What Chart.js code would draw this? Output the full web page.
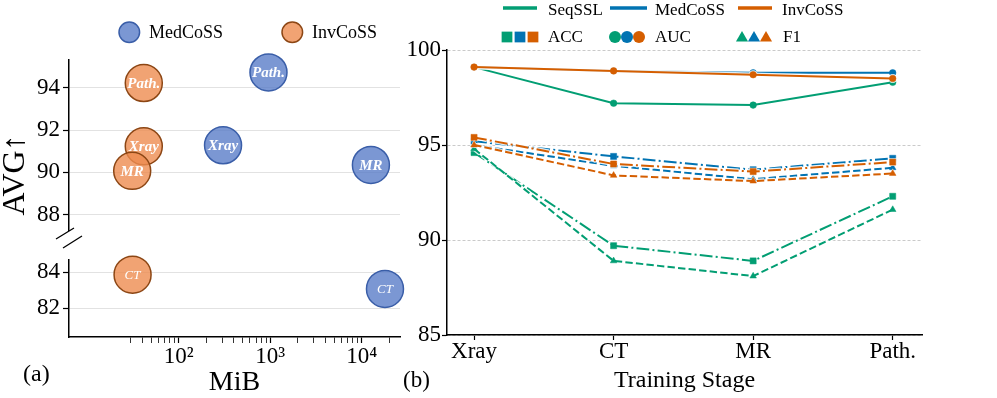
<!DOCTYPE html>
<html>
<head>
<meta charset="utf-8">
<script src="https://cdn.jsdelivr.net/npm/chart.js@4.4.0/dist/chart.umd.min.js"></script>
<style>
  body { margin: 0; background: #fff; width: 997px; height: 398px; overflow: hidden; position: relative; }
  canvas { position: absolute; }
</style>
</head>
<body>
<canvas id="aTop" width="440" height="250" style="left:0;top:0;width:440px;height:250px"></canvas>
<canvas id="aBot" width="440" height="158" style="left:0;top:240px;width:440px;height:158px"></canvas>
<canvas id="b" width="597" height="398" style="left:400px;top:0;width:597px;height:398px"></canvas>
<script>
// (a) storage (MiB) vs. average score, one bubble per training stage
const stages = ['Xray', 'CT', 'MR', 'Path.'];
const medMiB = [305, 17950, 12600, 957];
const medAVG = [91.28, 83.07, 90.35, 94.73];
const invMiB = [41.5, 31.3, 31.0, 41.5];
const invAVG = [91.23, 83.86, 90.07, 94.23];
const avgTicksTop = [88, 90, 92, 94];
const avgTicksBot = [82, 84];
const mibMajor = [100, 1000, 10000];

// (b) scores after each training stage
const methods = ['SeqSSL', 'MedCoSS', 'InvCoSS'];
const metrics = ['ACC', 'AUC', 'F1'];
const seqACC = [94.6, 89.7, 88.9, 92.3];
const medACC = [95.2, 94.4, 93.7, 94.3];
const invACC = [95.4, 94.0, 93.6, 94.1];
const seqAUC = [99.1, 97.2, 97.1, 98.3];
const medAUC = [99.1, 98.9, 98.8, 98.8];
const invAUC = [99.1, 98.9, 98.7, 98.5];
const seqF1 = [94.8, 88.9, 88.1, 91.6];
const medF1 = [95.0, 93.9, 93.2, 93.8];
const invF1 = [95.0, 93.4, 93.1, 93.5];
const scoreTicks = [85, 90, 95, 100];

const FONT = '"Liberation Serif", "Times New Roman", serif';
const methodColors = ['#029e73', '#0173b2', '#d55e00'];
const bubbleFill = ['rgba(90,125,200,0.8)', 'rgba(238,140,80,0.8)'];
const bubbleEdge = ['#3a5ea8', '#8c4614'];

Chart.defaults.font.family = FONT;
Chart.defaults.color = '#000';

// minor ticks for the log axis (matplotlib style), starting at 30
const mibTicks = [];
[10, 100, 1000, 10000].forEach(d => {
  for (let k = 1; k <= 9; k++) {
    const v = k * d;
    if (v >= 30 && v <= 26000) mibTicks.push(v);
  }
});
const sup = { 2: '\u00b2', 3: '\u00b3', 4: '\u2074' };

function points(xs, ys, keep) {
  return xs.map((x, i) => ({ x, y: ys[i], name: stages[i] })).filter(p => keep(p.y));
}

const bubbleLabels = {
  id: 'bubbleLabels',
  afterDatasetsDraw(chart) {
    const ctx = chart.ctx;
    ctx.save();
    ctx.fillStyle = '#fff';
    ctx.textAlign = 'center';
    ctx.textBaseline = 'middle';
    chart.data.datasets.forEach((ds, i) => {
      chart.getDatasetMeta(i).data.forEach((pt, j) => {
        const name = ds.data[j].name;
        ctx.font = name === 'CT' ? 'italic 13px ' + FONT : 'italic bold 15px ' + FONT;
        ctx.fillText(name, pt.x, pt.y + 1);
      });
    });
    ctx.restore();
  }
};

function bubbleSets(keep) {
  return [
    { label: 'MedCoSS', data: points(medMiB, medAVG, keep) },
    { label: 'InvCoSS', data: points(invMiB, invAVG, keep) }
  ].map((ds, k) => Object.assign(ds, {
    pointRadius: 18.5, pointHoverRadius: 18.5,
    backgroundColor: bubbleFill[k], borderColor: bubbleEdge[k],
    borderWidth: 1.5, clip: false
  }));
}

function avgAxis(min, max, ticks) {
  return {
    min, max,
    afterBuildTicks: s => { s.ticks = ticks.map(v => ({ value: v })); },
    afterFit: s => { s.width = 69; s.paddingTop = 0; s.paddingBottom = 0; },
    grid: { color: '#e2e2e2', lineWidth: 1, tickColor: '#000', tickLength: 6, tickWidth: 1.2 },
    border: { color: '#000', width: 1.5 },
    ticks: { font: { size: 23, lineHeight: 1 }, padding: 3 }
  };
}

function mibAxis(shown) {
  return {
    type: 'logarithmic', min: 6.32, max: 26200, display: shown,
    afterBuildTicks: s => { s.ticks = mibTicks.map(v => ({ value: v, major: mibMajor.includes(v) })); },
    afterFit: s => { s.height = shown ? 61 : 0; s.paddingLeft = 0; s.paddingRight = 0; },
    grid: { drawOnChartArea: false, tickColor: '#000', tickLength: 6,
            tickWidth: c => (c.tick && mibMajor.includes(c.tick.value) ? 1.2 : 0.8) },
    border: { color: '#000', width: 1.5 },
    ticks: {
      autoSkip: false, maxRotation: 0, padding: 2,
      font: { size: 23, lineHeight: 1 },
      callback: v => (mibMajor.includes(v) ? '10' + sup[Math.round(Math.log10(v))] : '')
    },
    title: { display: true, text: 'MiB', font: { size: 28, lineHeight: 1 }, padding: { top: 0, bottom: 1 } }
  };
}

const legendA = {
  id: 'legendA',
  afterDraw(chart) {
    const ctx = chart.ctx;
    ctx.save();
    [[129.3, 149], [292.3, 312]].forEach(([cx, tx], k) => {
      ctx.beginPath();
      ctx.arc(cx, 32.3, 10.3, 0, Math.PI * 2);
      ctx.fillStyle = bubbleFill[k];
      ctx.fill();
      ctx.lineWidth = 1.5;
      ctx.strokeStyle = bubbleEdge[k];
      ctx.stroke();
      ctx.fillStyle = '#000';
      ctx.font = '18px ' + FONT;
      ctx.textBaseline = 'middle';
      ctx.fillText(k === 0 ? 'MedCoSS' : 'InvCoSS', tx, 33);
    });
    // y title
    ctx.translate(16, 175);
    ctx.rotate(-Math.PI / 2);
    ctx.textAlign = 'center';
    ctx.font = '32px ' + FONT;
    ctx.fillText('AVG\u2191', 0, 0);
    ctx.restore();
    // axis break marks
    ctx.save();
    ctx.strokeStyle = '#000';
    ctx.lineWidth = 1.3;
    ctx.beginPath();
    ctx.moveTo(56, 239); ctx.lineTo(74, 228);
    ctx.moveTo(63, 248); ctx.lineTo(82, 236);
    ctx.stroke();
    ctx.restore();
  }
};

const labelA = {
  id: 'labelA',
  afterDraw(chart) {
    const ctx = chart.ctx;
    ctx.save();
    ctx.fillStyle = '#000';
    ctx.font = '24px ' + FONT;
    ctx.textBaseline = 'middle';
    ctx.fillText('(a)', 23, 134.5);
    ctx.restore();
  }
};

new Chart(document.getElementById('aTop'), {
  type: 'scatter',
  data: { datasets: bubbleSets(y => y > 86) },
  options: {
    responsive: false, animation: false, devicePixelRatio: 1,
    layout: { padding: { top: 60, bottom: 17, left: 0, right: 40 } },
    plugins: { legend: { display: false }, tooltip: { enabled: false } },
    scales: { x: mibAxis(false), y: avgAxis(87.27, 95.32, avgTicksTop) }
  },
  plugins: [bubbleLabels, legendA]
});

new Chart(document.getElementById('aBot'), {
  type: 'scatter',
  data: { datasets: bubbleSets(y => y < 86) },
  options: {
    responsive: false, animation: false, devicePixelRatio: 1,
    layout: { padding: { top: 6, bottom: 0, left: 0, right: 40 } },
    plugins: { legend: { display: false }, tooltip: { enabled: false } },
    scales: { x: mibAxis(true), y: avgAxis(80.41, 84.67, avgTicksBot) }
  },
  plugins: [bubbleLabels, labelA]
});

// (b)
const dashes = { ACC: [12.8, 3.2, 2, 3.2], AUC: [], F1: [7.4, 3.2] };
const shapes = { ACC: 'rect', AUC: 'circle', F1: 'triangle' };
const radii = { ACC: 4.3, AUC: 3.3, F1: 3.8 };
const series = [
  ['SeqSSL', 'ACC', seqACC], ['SeqSSL', 'AUC', seqAUC], ['SeqSSL', 'F1', seqF1],
  ['MedCoSS', 'ACC', medACC], ['MedCoSS', 'AUC', medAUC], ['MedCoSS', 'F1', medF1],
  ['InvCoSS', 'ACC', invACC], ['InvCoSS', 'AUC', invAUC], ['InvCoSS', 'F1', invF1]
];
const lineSets = [];
series.forEach(([m, metric, vals], k) => {
  const c = methodColors[methods.indexOf(m)];
  const data = vals.map((v, i) => ({ x: i, y: v }));
  const base = {
    data, borderDash: dashes[metric], pointStyle: shapes[metric],
    showLine: true, tension: 0, clip: false
  };
  // light white outline drawn just under each line
  lineSets.push(Object.assign({}, base, {
    label: m + ' ' + metric + ' outline',
    borderColor: 'rgba(255,255,255,0.85)', backgroundColor: 'rgba(255,255,255,0.85)',
    borderWidth: 4.5, pointRadius: radii[metric] + 1.2, pointHoverRadius: radii[metric] + 1.2,
    pointBorderWidth: 0, order: 201 - 2 * k
  }));
  lineSets.push(Object.assign({}, base, {
    label: m + ' ' + metric,
    borderColor: c, backgroundColor: c,
    borderWidth: 2, pointRadius: radii[metric], pointHoverRadius: radii[metric],
    pointBorderWidth: 0.5, order: 200 - 2 * k
  }));
});

const legendB = {
  id: 'legendB',
  afterDraw(chart) {
    const ctx = chart.ctx;
    const drawPoint = Chart.helpers.drawPoint;
    ctx.save();
    ctx.font = '17px ' + FONT;
    ctx.textBaseline = 'middle';
    [[103, 137, 148], [210, 247, 255], [338, 372, 382]].forEach(([x0, x1, tx], k) => {
      ctx.strokeStyle = methodColors[k];
      ctx.lineWidth = 3.5;
      ctx.beginPath();
      ctx.moveTo(x0, 8); ctx.lineTo(x1, 8);
      ctx.stroke();
      ctx.fillStyle = '#000';
      ctx.fillText(methods[k], tx, 10.5);
    });
    const markerRows = [
      { metric: 'ACC', xs: [107, 120, 133], r: 7.6, tx: 148 },
      { metric: 'AUC', xs: [215, 227, 239], r: 6, tx: 255 },
      { metric: 'F1', xs: [342, 354, 366], r: 7, tx: 383 }
    ];
    markerRows.forEach(row => {
      row.xs.forEach((x, k) => {
        ctx.fillStyle = methodColors[k];
        drawPoint(ctx, { pointStyle: shapes[row.metric], radius: row.r, borderWidth: 0 }, x, row.metric === 'F1' ? 38 : 37);
      });
      ctx.fillStyle = '#000';
      ctx.fillText(row.metric, row.tx, 37.5);
    });
    ctx.font = '23px ' + FONT;
    ctx.fillText('(b)', 3, 381);
    ctx.restore();
  }
};

new Chart(document.getElementById('b'), {
  type: 'scatter',
  data: { datasets: lineSets },
  options: {
    responsive: false, animation: false, devicePixelRatio: 1,
    layout: { padding: { top: 50, bottom: 0, left: 0, right: 75 } },
    plugins: { legend: { display: false }, tooltip: { enabled: false } },
    scales: {
      x: {
        type: 'linear', min: -0.194, max: 3.21,
        afterBuildTicks: s => { s.ticks = stages.map((_, i) => ({ value: i })); },
        afterFit: s => { s.height = 63; s.paddingLeft = 0; s.paddingRight = 0; },
        grid: { drawOnChartArea: false, tickColor: '#000', tickLength: 5, tickWidth: 1.2 },
        border: { color: '#000', width: 1.5 },
        ticks: { font: { size: 23, lineHeight: 1 }, padding: 0, maxRotation: 0, autoSkip: false,
                 callback: v => stages[v] },
        title: { display: true, text: 'Training Stage', font: { size: 24, lineHeight: 1 }, padding: { top: 0, bottom: 5 } }
      },
      y: {
        min: 85, max: 100,
        afterBuildTicks: s => { s.ticks = scoreTicks.map(v => ({ value: v })); },
        afterFit: s => { s.width = 47; s.paddingTop = 0; s.paddingBottom = 0; },
        grid: { color: '#c4c4c4', lineWidth: 0.9, tickColor: '#000', tickLength: 5, tickWidth: 1.2 },
        border: { color: '#000', width: 1.5, dash: [3, 2] },
        ticks: { font: { size: 23, lineHeight: 1 }, padding: 1 }
      }
    }
  },
  plugins: [legendB]
});
</script>
</body>
</html>
